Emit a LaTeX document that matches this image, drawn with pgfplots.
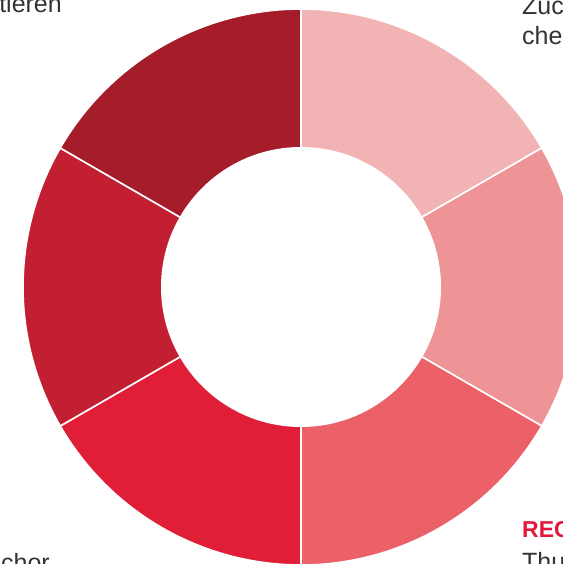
\documentclass[border=0pt]{standalone}
\usepackage{pgfplots}
\pgfplotsset{compat=1.18}
\usepackage{fontspec}
\setmainfont{Liberation Sans}
\definecolor{segA}{HTML}{F2B3B5}
\definecolor{segB}{HTML}{EE9497}
\definecolor{segC}{HTML}{EC6068}
\definecolor{segD}{HTML}{E01E37}
\definecolor{segE}{HTML}{C31F32}
\definecolor{segF}{HTML}{A51C2B}
\definecolor{txt}{HTML}{333333}
\definecolor{redtxt}{HTML}{E2183D}
% six equal shares (1 each), drawn clockwise from 12 o'clock
\begin{document}
\begin{tikzpicture}
\begin{axis}[
  at={(0,0)}, anchor=south west,
  scale only axis, width=562pt, height=564pt,
  xmin=0, xmax=562, ymin=0, ymax=564,
  hide axis, clip=false,
]
\filldraw[fill=segA,draw=white,line width=1.6pt] (axis cs:301,277) -- ++(90:278pt) arc[start angle=90,end angle=30,radius=278pt] -- cycle;
\filldraw[fill=segB,draw=white,line width=1.6pt] (axis cs:301,277) -- ++(30:278pt) arc[start angle=30,end angle=-30,radius=278pt] -- cycle;
\filldraw[fill=segC,draw=white,line width=1.6pt] (axis cs:301,277) -- ++(-30:278pt) arc[start angle=-30,end angle=-90,radius=278pt] -- cycle;
\filldraw[fill=segD,draw=white,line width=1.6pt] (axis cs:301,277) -- ++(-90:278pt) arc[start angle=-90,end angle=-150,radius=278pt] -- cycle;
\filldraw[fill=segE,draw=white,line width=1.6pt] (axis cs:301,277) -- ++(-150:278pt) arc[start angle=-150,end angle=-210,radius=278pt] -- cycle;
\filldraw[fill=segF,draw=white,line width=1.6pt] (axis cs:301,277) -- ++(150:278pt) arc[start angle=150,end angle=90,radius=278pt] -- cycle;
\fill[white] (axis cs:301,277) circle[radius=140pt];
\node[anchor=base east, font=\fontsize{25}{30}\selectfont, text=txt, inner sep=0pt] at (axis cs:62,551) {tieren};
\node[anchor=base west, font=\fontsize{25}{30}\selectfont, text=txt, inner sep=0pt] at (axis cs:522,549) {Zuck};
\node[anchor=base west, font=\fontsize{25}{30}\selectfont, text=txt, inner sep=0pt] at (axis cs:522,519) {chen};
\node[anchor=base west, font=\fontsize{23}{28}\selectfont\bfseries, text=redtxt, inner sep=0pt] at (axis cs:522,26) {REC};
\node[anchor=base west, font=\fontsize{25}{30}\selectfont, text=txt, inner sep=0pt] at (axis cs:522,-6) {Thu};
\node[anchor=base east, font=\fontsize{25}{30}\selectfont, text=txt, inner sep=0pt] at (axis cs:50,-7) {chor};
\end{axis}
\pgfresetboundingbox
\useasboundingbox (0,0) rectangle (562pt,564pt);
\end{tikzpicture}
\end{document}
